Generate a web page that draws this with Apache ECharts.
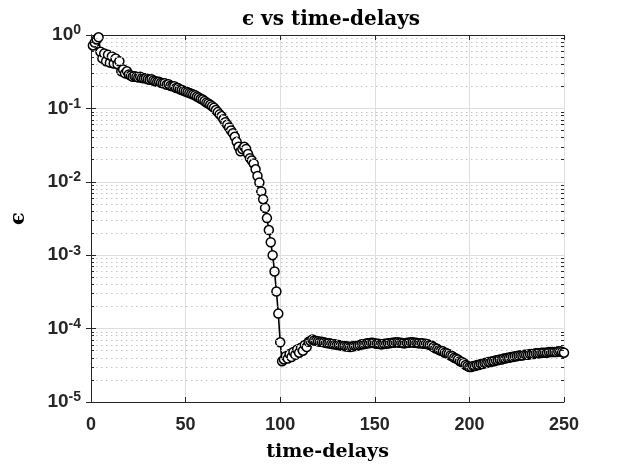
<!DOCTYPE html>
<html>
<head>
<meta charset="utf-8">
<script src="https://cdn.jsdelivr.net/npm/echarts@6/dist/echarts.min.js"></script>
<style>
  html, body { margin: 0; padding: 0; background: #fff; }
  #chart { width: 624px; height: 467px; }
</style>
</head>
<body>
<div id="chart"></div>
<script>
// time-delays 1..250 (one point per delay)
const delays = Array.from({ length: 250 }, (_, i) => i + 1)

// epsilon, one value per delay
const eps = [
  0.72, 0.79, 0.87, 0.93, 0.59, 0.48, 0.56, 0.44, 0.54, 0.42,
  0.51, 0.41, 0.48, 0.40, 0.44, 0.32, 0.34, 0.30, 0.32, 0.29,
  0.28, 0.27, 0.275, 0.27, 0.263, 0.27, 0.26, 0.257, 0.257, 0.25,
  0.245, 0.25, 0.24, 0.235, 0.23, 0.23, 0.224, 0.22, 0.22, 0.21,
  0.214, 0.204, 0.20, 0.20, 0.19, 0.19, 0.182, 0.178, 0.174, 0.17,
  0.166, 0.162, 0.158, 0.155, 0.151, 0.145, 0.141, 0.135, 0.132, 0.126,
  0.12, 0.117, 0.112, 0.107, 0.102, 0.095, 0.089, 0.083, 0.078, 0.071,
  0.065, 0.060, 0.055, 0.050, 0.046, 0.041, 0.035, 0.030, 0.026, 0.028,
  0.030, 0.028, 0.024, 0.021, 0.0195, 0.0178, 0.0148, 0.012, 0.0098, 0.0074,
  0.0058, 0.0044, 0.0032, 0.0022, 0.0015, 0.0010, 0.0006, 0.00032, 0.00016, 6.5e-5,
  3.6e-5, 3.8e-5, 4.2e-5, 3.9e-5, 4.5e-5, 4.1e-5, 4.8e-5, 4.4e-5, 5.2e-5, 4.7e-5,
  5.5e-5, 5.0e-5, 6.0e-5, 5.6e-5, 6.6e-5, 6.8e-5, 7.1e-5, 6.9e-5, 6.8e-5, 6.7e-5,
  6.6e-5, 6.6e-5, 6.5e-5, 6.4e-5, 6.3e-5, 6.3e-5, 6.2e-5, 6.1e-5, 6.1e-5, 6.0e-5,
  6.0e-5, 5.9e-5, 5.8e-5, 5.8e-5, 5.7e-5, 5.7e-5, 5.6e-5, 5.7e-5, 5.8e-5, 5.8e-5,
  5.9e-5, 6.0e-5, 6.1e-5, 6.1e-5, 6.2e-5, 6.3e-5, 6.3e-5, 6.4e-5, 6.4e-5, 6.3e-5,
  6.2e-5, 6.2e-5, 6.1e-5, 6.1e-5, 6.2e-5, 6.2e-5, 6.3e-5, 6.3e-5, 6.4e-5, 6.4e-5,
  6.5e-5, 6.5e-5, 6.4e-5, 6.4e-5, 6.3e-5, 6.3e-5, 6.4e-5, 6.4e-5, 6.5e-5, 6.5e-5,
  6.4e-5, 6.4e-5, 6.3e-5, 6.3e-5, 6.3e-5, 6.2e-5, 6.2e-5, 6.1e-5, 6.0e-5, 5.9e-5,
  5.6e-5, 5.4e-5, 5.3e-5, 5.1e-5, 5.0e-5, 4.9e-5, 4.7e-5, 4.6e-5, 4.5e-5, 4.3e-5,
  4.2e-5, 4.0e-5, 3.9e-5, 3.8e-5, 3.6e-5, 3.5e-5, 3.4e-5, 3.2e-5, 3.1e-5, 3.0e-5,
  3.0e-5, 3.1e-5, 3.1e-5, 3.2e-5, 3.2e-5, 3.3e-5, 3.3e-5, 3.4e-5, 3.4e-5, 3.5e-5,
  3.5e-5, 3.6e-5, 3.6e-5, 3.7e-5, 3.7e-5, 3.8e-5, 3.8e-5, 3.9e-5, 3.9e-5, 4.0e-5,
  4.0e-5, 4.1e-5, 4.1e-5, 4.2e-5, 4.2e-5, 4.3e-5, 4.3e-5, 4.3e-5, 4.4e-5, 4.4e-5,
  4.4e-5, 4.5e-5, 4.5e-5, 4.5e-5, 4.6e-5, 4.6e-5, 4.6e-5, 4.7e-5, 4.7e-5, 4.7e-5,
  4.7e-5, 4.8e-5, 4.8e-5, 4.8e-5, 4.8e-5, 4.8e-5, 4.9e-5, 4.9e-5, 4.8e-5, 4.7e-5
]

const xTicks = [0, 50, 100, 150, 200, 250]
const yDecades = [-5, -4, -3, -2, -1, 0]

const sans = "'Liberation Sans', Arial, sans-serif"
const serif = "'DejaVu Serif', 'Liberation Serif', serif"
const ink = '#262626'

// dotted minor grid lines at 2..9 x 10^e, plus the little inward minor ticks
const minorVals = []
yDecades.slice(0, -1).forEach(function (e) {
  for (let k = 2; k <= 9; k++) minorVals.push(k * Math.pow(10, e))
})
const minorGrid = minorVals.map(v => ({ yAxis: v }))
const minorTicks = []
minorVals.forEach(function (v) {
  minorTicks.push([{ coord: [0, v] }, { coord: [1.6, v] }])
  minorTicks.push([{ coord: [248.4, v] }, { coord: [250, v] }])
})

const chart = echarts.init(document.getElementById('chart'))

const yLabel = function (v) {
  const e = Math.round(Math.log10(v))
  return '{b|10}{s|' + e + '}'
}

const option = {
  animation: false,
  title: {
    text: 'ϵ vs time-delays',
    left: 326,
    textAlign: 'center',
    top: 5,
    textStyle: { fontFamily: serif, fontWeight: 'bold', fontSize: 20, color: '#000' }
  },
  grid: { left: 82, top: 35, right: 60, bottom: 65 },
  xAxis: [{
    type: 'value',
    min: 0,
    max: 250,
    interval: 50,
    name: 'time-delays',
    nameLocation: 'middle',
    nameGap: 41,
    nameTextStyle: { fontFamily: serif, fontWeight: 'bold', fontSize: 19, color: '#000' },
    axisLine: { lineStyle: { color: ink, width: 1 } },
    axisTick: { inside: true, length: 5, lineStyle: { color: ink } },
    axisLabel: {
      margin: 14,
      fontFamily: sans, fontWeight: 'bold', fontSize: 18, color: ink,
      formatter: v => xTicks.includes(v) ? String(v) : ''
    },
    splitLine: { show: true, lineStyle: { color: '#dedede', width: 1 } }
  }, {
    type: 'value',
    position: 'top',
    min: 0,
    max: 250,
    interval: 50,
    axisLine: { show: true, lineStyle: { color: ink, width: 1 } },
    axisTick: { inside: true, length: 5, lineStyle: { color: ink } },
    axisLabel: { show: false },
    splitLine: { show: false }
  }],
  yAxis: [{
    type: 'log',
    logBase: 10,
    min: 1e-5,
    max: 1,
    name: 'ϵ',
    nameLocation: 'middle',
    nameGap: 62,
    nameTextStyle: { fontFamily: serif, fontWeight: 'bold', fontSize: 21, color: '#000' },
    axisLine: { show: true, lineStyle: { color: ink, width: 1 } },
    axisTick: { show: true, inside: true, length: 5, lineStyle: { color: ink } },
    axisLabel: {
      margin: 10,
      formatter: yLabel,
      rich: {
        b: { fontFamily: sans, fontWeight: 'bold', fontSize: 19, color: ink },
        s: { fontFamily: sans, fontWeight: 'bold', fontSize: 14, color: ink, padding: [0, 0, 9, 0] }
      }
    },
    splitLine: { show: true, lineStyle: { color: '#dedede', width: 1 } }
  }, {
    type: 'log',
    logBase: 10,
    min: 1e-5,
    max: 1,
    position: 'right',
    axisLine: { show: true, lineStyle: { color: ink, width: 1 } },
    axisTick: { show: true, inside: true, length: 5, lineStyle: { color: ink } },
    axisLabel: { show: false },
    splitLine: { show: false }
  }],
  series: [{
    name: 'minor grid',
    type: 'line',
    data: [],
    silent: true,
    z: 1,
    markLine: {
      silent: true,
      precision: 10,
      symbol: ['none', 'none'],
      label: { show: false },
      lineStyle: { color: '#c4c4c4', width: 1, type: [1.5, 3.5] },
      data: minorGrid
    }
  }, {
    name: 'minor ticks',
    type: 'line',
    data: [],
    silent: true,
    z: 1,
    markLine: {
      silent: true,
      precision: 10,
      symbol: ['none', 'none'],
      label: { show: false },
      lineStyle: { color: ink, width: 1, type: 'solid' },
      data: minorTicks
    }
  }, {
    name: 'epsilon',
    type: 'line',
    data: delays.map((d, i) => [d, eps[i]]),
    z: 3,
    symbol: 'circle',
    symbolSize: 9,
    showSymbol: true,
    showAllSymbol: true,
    lineStyle: { color: '#000', width: 1.6 },
    itemStyle: { color: '#fff', borderColor: '#000', borderWidth: 1.5 }
  }]
}

chart.setOption(option)
</script>
</body>
</html>
